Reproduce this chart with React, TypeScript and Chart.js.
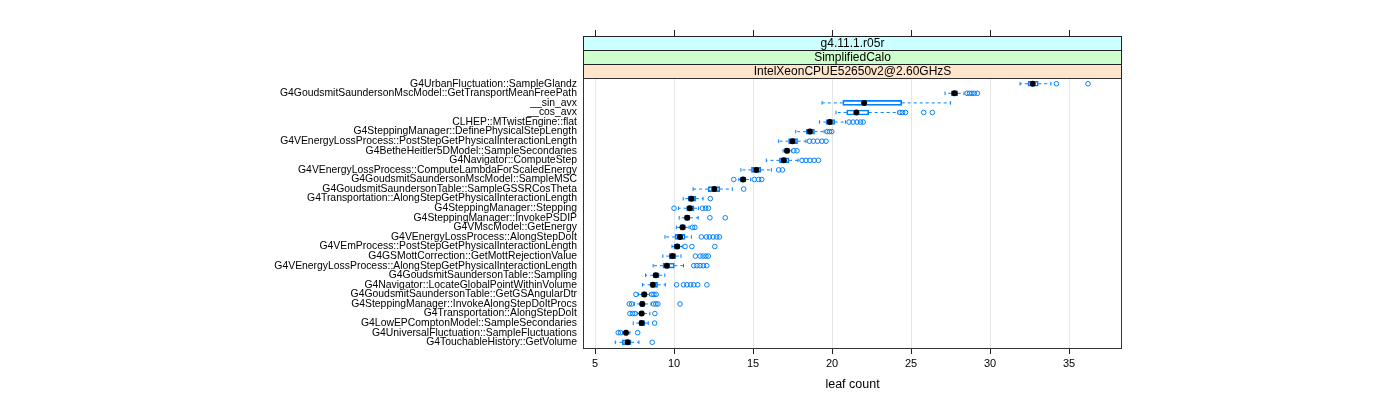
import React, { useEffect, useRef } from 'react';
import { Chart, registerables } from 'chart.js';

Chart.register(...registerables);

const categories = [
  'G4UrbanFluctuation::SampleGlandz',
  'G4GoudsmitSaundersonMscModel::GetTransportMeanFreePath',
  '__sin_avx',
  '__cos_avx',
  'CLHEP::MTwistEngine::flat',
  'G4SteppingManager::DefinePhysicalStepLength',
  'G4VEnergyLossProcess::PostStepGetPhysicalInteractionLength',
  'G4BetheHeitler5DModel::SampleSecondaries',
  'G4Navigator::ComputeStep',
  'G4VEnergyLossProcess::ComputeLambdaForScaledEnergy',
  'G4GoudsmitSaundersonMscModel::SampleMSC',
  'G4GoudsmitSaundersonTable::SampleGSSRCosTheta',
  'G4Transportation::AlongStepGetPhysicalInteractionLength',
  'G4SteppingManager::Stepping',
  'G4SteppingManager::InvokePSDIP',
  'G4VMscModel::GetEnergy',
  'G4VEnergyLossProcess::AlongStepDoIt',
  'G4VEmProcess::PostStepGetPhysicalInteractionLength',
  'G4GSMottCorrection::GetMottRejectionValue',
  'G4VEnergyLossProcess::AlongStepGetPhysicalInteractionLength',
  'G4GoudsmitSaundersonTable::Sampling',
  'G4Navigator::LocateGlobalPointWithinVolume',
  'G4GoudsmitSaundersonTable::GetGSAngularDtr',
  'G4SteppingManager::InvokeAlongStepDoItProcs',
  'G4Transportation::AlongStepDoIt',
  'G4LowEPComptonModel::SampleSecondaries',
  'G4UniversalFluctuation::SampleFluctuations',
  'G4TouchableHistory::GetVolume',
];

const whiskerLow = [
  31.9, 27.15, 19.37, 20.25, 19.2, 17.7, 16.62, 16.9, 15.84, 14.23,
  14.1, 11.21, 10.58, 10.28, 10.33, 10.15, 9.43, 9.87, 9.29, 8.68,
  8.2, 8.01, 7.74, 7.5, 7.68, 7.42, 6.75, 6.28,
];
const lowerQuartile = [
  32.4, 27.55, 20.68, 20.93, 19.64, 18.36, 17.25, 17.0, 16.67, 14.9,
  14.2, 12.16, 10.9, 10.8, 10.68, 10.38, 10.07, 10.0, 9.7, 9.3,
  8.68, 8.52, 7.95, 7.84, 7.82, 7.8, 6.85, 6.73,
];
const medians = [
  32.7, 27.75, 22.03, 21.54, 19.86, 18.6, 17.5, 17.15, 16.95, 15.21,
  14.37, 12.55, 11.1, 11.0, 10.83, 10.54, 10.38, 10.2, 9.9, 9.55,
  8.85, 8.66, 8.12, 7.99, 7.95, 7.95, 6.96, 7.06,
];
const upperQuartile = [
  33.05, 27.95, 24.41, 22.32, 20.17, 18.89, 17.82, 17.3, 17.28, 15.5,
  14.55, 12.9, 11.38, 11.27, 11.0, 10.72, 10.7, 10.37, 10.12, 10.02,
  9.06, 8.96, 8.26, 8.16, 8.1, 8.16, 7.08, 7.28,
];
const whiskerHigh = [
  33.85, 28.35, 27.49, 24.15, 20.85, 19.5, 18.35, 17.45, 17.85, 16.16,
  14.85, 13.69, 11.84, 11.55, 11.53, 10.95, 11.1, 10.52, 10.44, 10.6,
  9.42, 9.45, 8.45, 8.55, 8.47, 8.37, 7.21, 7.78,
];
const outliers = [
  [34.2, 36.2],
  [28.55, 28.7, 28.85, 29.0, 29.2],
  [],
  [24.3, 24.45, 24.65, 25.8, 26.35],
  [21.08, 21.33, 21.58, 21.8, 21.97],
  [19.7, 19.84, 19.98],
  [18.57, 18.82, 19.08, 19.36, 19.62],
  [17.58, 17.78],
  [18.1, 18.35, 18.6, 18.87, 19.14],
  [16.62, 16.86],
  [13.78, 15.08, 15.35, 15.55],
  [14.41],
  [12.3],
  [10.0, 11.8, 12.0, 12.18],
  [12.27, 13.24],
  [11.17, 11.32],
  [11.73, 12.05, 12.24, 12.47, 12.7, 12.87],
  [10.7, 11.13, 12.58],
  [11.35, 11.65, 11.84, 12.02, 12.17],
  [11.25, 11.45, 11.65, 11.86, 12.07],
  [],
  [10.16, 10.6, 10.82, 11.05, 11.25, 11.5, 12.08],
  [7.59, 8.6, 8.73, 8.87],
  [7.17, 7.32, 8.7, 8.85, 8.98, 10.38],
  [7.21, 7.38, 7.53, 8.79],
  [8.77],
  [6.47, 6.62, 7.7],
  [8.62],
];

const xTicks = [5, 10, 15, 20, 25, 30, 35];
const xTitle = 'leaf count';
const stripLabels = ['IntelXeonCPUE52650v2@2.60GHzS', 'SimplifiedCalo', 'g4.11.1.r05r'];
const stripColors = ['#ffe5cc', '#ccffcc', '#ccffff'];

const BLUE = '#0080ff';
const FONT = "'Liberation Sans', Arial, sans-serif";
const STRIP_H = 14;

const latticePlugin = {
  id: 'latticeDecor',
  afterDraw(chart: any) {
    const { ctx, chartArea } = chart;
    const { left, right, top, bottom } = chartArea;
    const xs = chart.scales.x;
    ctx.save();
    stripLabels.forEach((label, i) => {
      const y1 = top - i * STRIP_H;
      const y0 = y1 - STRIP_H;
      ctx.fillStyle = stripColors[i];
      ctx.fillRect(left, y0, right - left, STRIP_H);
      ctx.strokeStyle = '#222';
      ctx.lineWidth = 1;
      ctx.strokeRect(left + 0.5, y0 + 0.5, right - left - 1, STRIP_H);
      ctx.fillStyle = '#000';
      ctx.font = `12px ${FONT}`;
      ctx.textAlign = 'center';
      ctx.textBaseline = 'middle';
      ctx.fillText(label, (left + right) / 2, y0 + STRIP_H / 2 + 0.5);
    });
    const stripTop = top - stripLabels.length * STRIP_H;
    ctx.strokeStyle = '#222';
    ctx.beginPath();
    xs.ticks.forEach((t: any) => {
      const px = Math.round(xs.getPixelForValue(t.value)) + 0.5;
      ctx.moveTo(px, stripTop);
      ctx.lineTo(px, stripTop - 6);
    });
    ctx.stroke();
    ctx.strokeStyle = '#333';
    ctx.strokeRect(left + 0.5, top + 0.5, right - left - 1, bottom - top);
    ctx.restore();
  },
};

export default function App() {
  const canvasRef = useRef<HTMLCanvasElement | null>(null);

  useEffect(() => {
    const canvas = canvasRef.current;
    if (!canvas) return;
    const rows = categories.map((_, i) => i + 1);
    const medianData = rows.map((r, i) => ({ x: medians[i], y: r }));
    const outlierData = outliers.flatMap((arr, i) => arr.map((v) => ({ x: v, y: i + 1 })));
    const boxData = rows.map((r, i) => ({ x: [lowerQuartile[i], upperQuartile[i]], y: r }));
    const capData = rows.flatMap((r, i) => [
      { x: whiskerLow[i], y: r },
      { x: whiskerHigh[i], y: r },
    ]);
    const whiskerData = rows.flatMap((r, i) => [
      { x: lowerQuartile[i], y: r },
      { x: whiskerLow[i], y: r },
      { x: null, y: null },
      { x: upperQuartile[i], y: r },
      { x: whiskerHigh[i], y: r },
      { x: null, y: null },
    ]);

    const chart = new Chart(canvas, {
      type: 'scatter',
      data: {
        datasets: [
          {
            type: 'scatter',
            data: medianData,
            pointStyle: 'circle',
            pointRadius: 3,
            pointBackgroundColor: '#000',
            pointBorderWidth: 0,
            showLine: false,
          } as any,
          {
            type: 'scatter',
            data: outlierData,
            pointStyle: 'circle',
            pointRadius: 2.3,
            pointBackgroundColor: 'rgba(0,0,0,0)',
            pointBorderColor: BLUE,
            pointBorderWidth: 1,
            showLine: false,
          } as any,
          {
            type: 'bar',
            indexAxis: 'y',
            data: boxData,
            backgroundColor: 'rgba(0,0,0,0)',
            borderColor: BLUE,
            borderWidth: 1,
            borderSkipped: false,
            barThickness: 5,
            grouped: false,
          } as any,
          {
            type: 'scatter',
            data: capData,
            pointStyle: 'line',
            pointRotation: 90,
            pointRadius: 1.8,
            pointBorderColor: BLUE,
            pointBorderWidth: 1,
            showLine: false,
          } as any,
          {
            type: 'scatter',
            data: whiskerData,
            showLine: true,
            spanGaps: false,
            borderColor: BLUE,
            borderWidth: 1,
            borderDash: [3, 3],
            pointRadius: 0,
            fill: false,
            tension: 0,
          } as any,
        ],
      },
      options: {
        animation: false,
        responsive: false,
        events: [],
        layout: { padding: { left: 0, right: 278, top: 78, bottom: 0 } },
        plugins: {
          legend: { display: false },
          tooltip: { enabled: false },
          title: { display: false },
        },
        scales: {
          x: {
            type: 'linear',
            position: 'bottom',
            min: 4.24,
            max: 38.35,
            afterBuildTicks: (scale: any) => {
              scale.ticks = xTicks.map((v) => ({ value: v }));
            },
            afterFit: (scale: any) => {
              scale.height = 52;
            },
            grid: {
              color: '#e6e6e6',
              tickColor: '#222',
              tickLength: 6,
              drawTicks: true,
            },
            border: { display: false },
            ticks: {
              color: '#000',
              font: { family: FONT, size: 11 },
              padding: 3,
              maxRotation: 0,
              autoSkip: false,
            },
            title: {
              display: true,
              text: xTitle,
              color: '#000',
              font: { family: FONT, size: 12.5 },
              padding: { top: 0, bottom: 8 },
            },
          },
          y: {
            type: 'linear',
            position: 'left',
            reverse: true,
            min: 0.4,
            max: 28.6,
            offset: false,
            afterBuildTicks: (scale: any) => {
              scale.ticks = categories.map((_, i) => ({ value: i + 1 }));
            },
            afterFit: (scale: any) => {
              scale.width = 583;
            },
            grid: { display: false, drawTicks: false, offset: false },
            border: { display: false },
            ticks: {
              color: '#000',
              font: { family: FONT, size: 10.4 },
              padding: 6,
              autoSkip: false,
              callback: (v: any) => categories[Math.round(Number(v)) - 1] ?? '',
            },
          },
        },
      } as any,
      plugins: [latticePlugin],
    });

    return () => {
      chart.destroy();
    };
  }, []);

  return (
    <div style={{ position: 'absolute', left: 0, top: 0, width: 1400, height: 400, background: '#fff' }}>
      <canvas ref={canvasRef} width={1400} height={400} style={{ display: 'block' }} />
    </div>
  );
}
